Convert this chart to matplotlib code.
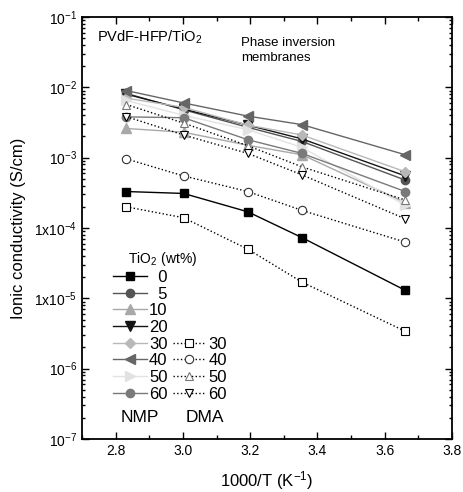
import matplotlib
matplotlib.use("Agg")
import matplotlib.pyplot as plt
from matplotlib.lines import Line2D
from matplotlib.ticker import FixedLocator, FixedFormatter, LogLocator, MultipleLocator, NullFormatter

plt.rcParams['font.family'] = ['Liberation Sans', 'DejaVu Sans']
plt.rcParams['mathtext.fontset'] = 'custom'
plt.rcParams['mathtext.rm'] = 'Liberation Sans'
plt.rcParams['mathtext.it'] = 'Liberation Sans'
plt.rcParams['mathtext.default'] = 'regular'

# data
inv_T = [2.832, 3.002, 3.193, 3.354, 3.661]

nmp_labels = ["0", "5", "10", "20", "30", "40", "50", "60"]
nmp_0 = [3.3e-4, 3.1e-4, 1.7e-4, 7.3e-5, 1.3e-5]
nmp_5 = [8.2e-3, 4.8e-3, 2.7e-3, 1.7e-3, 4.8e-4]
nmp_10 = [2.6e-3, 2.3e-3, 1.5e-3, 1.1e-3, 2.3e-4]
nmp_20 = [8.0e-3, 4.9e-3, 2.9e-3, 1.85e-3, 5.5e-4]
nmp_30 = [7.0e-3, 5.2e-3, 2.9e-3, 2.1e-3, 6.3e-4]
nmp_40 = [9.0e-3, 6.0e-3, 3.9e-3, 2.95e-3, 1.1e-3]
nmp_50 = [6.5e-3, 4.0e-3, 2.5e-3, 1.4e-3, 2.1e-4]
nmp_60 = [3.8e-3, 3.7e-3, 1.8e-3, 1.15e-3, 3.3e-4]

dma_labels = ["30", "40", "50", "60"]
dma_30 = [2.0e-4, 1.4e-4, 5.0e-5, 1.7e-5, 3.4e-6]
dma_40 = [9.6e-4, 5.5e-4, 3.3e-4, 1.78e-4, 6.3e-5]
dma_50 = [5.7e-3, 3.1e-3, 1.48e-3, 7.4e-4, 2.5e-4]
dma_60 = [3.83e-3, 2.1e-3, 1.15e-3, 5.7e-4, 1.35e-4]

yticks = [1e-7, 1e-6, 1e-5, 1e-4, 1e-3, 1e-2, 1e-1]
ytick_labels = ["10$^{-7}$", "10$^{-6}$", "1x10$^{-5}$", "1x10$^{-4}$", "10$^{-3}$", "10$^{-2}$", "10$^{-1}$"]
xticks = [2.8, 3.0, 3.2, 3.4, 3.6, 3.8]

nmp_series = [nmp_0, nmp_5, nmp_10, nmp_20, nmp_30, nmp_40, nmp_50, nmp_60]
nmp_markers = ['s', 'o', '^', 'v', 'D', '<', '>', 'o']
nmp_colors = ['#000000', '#555555', '#a8a8a8', '#151515', '#b8b8b8', '#666666', '#e2e2e2', '#7a7a7a']
nmp_msize = [5.5, 6, 6.5, 6.5, 5.5, 7, 7, 6]

dma_series = [dma_30, dma_40, dma_50, dma_60]
dma_markers = ['s', 'o', '^', 'v']
dma_mec = ['#000000', '#333333', '#777777', '#000000']

fig = plt.figure(figsize=(4.64, 4.92), dpi=100)
ax = fig.add_axes([82/464, 1-439/492, 370/464, 422/492])

nmp_handles = []
for vals, m, c, ms, lab in zip(nmp_series, nmp_markers, nmp_colors, nmp_msize, nmp_labels):
    h, = ax.plot(inv_T, vals, marker=m, color=c, mfc=c, mec=c, ms=ms, lw=1.0, label=lab)
    nmp_handles.append(h)

dma_handles = []
for vals, m, mc, lab in zip(dma_series, dma_markers, dma_mec, dma_labels):
    h, = ax.plot(inv_T, vals, marker=m, color='#000000', ls=':', lw=1.0,
                 mfc='white', mec=mc, ms=6, mew=0.8, label=lab)
    dma_handles.append(h)

ax.set_yscale('log')
ax.set_xlim(2.7, 3.8)
ax.set_ylim(1e-7, 1e-1)
ax.yaxis.set_major_locator(FixedLocator(yticks))
ax.yaxis.set_major_formatter(FixedFormatter(ytick_labels))
ax.yaxis.set_minor_locator(LogLocator(base=10, subs=range(2, 10), numticks=20))
ax.yaxis.set_minor_formatter(NullFormatter())
ax.xaxis.set_major_locator(FixedLocator(xticks))
ax.set_xticklabels([f"{v:.1f}" for v in xticks])
ax.xaxis.set_minor_locator(MultipleLocator(0.1))

ax.tick_params(which='both', direction='in', top=True, right=True, labelsize=10, width=1.0)
ax.tick_params(which='major', length=5)
ax.tick_params(which='minor', length=3)
ax.tick_params(axis='y', which='minor', length=2.5)
for s in ax.spines.values():
    s.set_linewidth(1.3)

ax.set_xlabel("1000/T (K$^{-1}$)", fontsize=12, labelpad=8)
ax.set_ylabel("Ionic conductivity (S/cm)", fontsize=12, labelpad=6)

ax.text(0.04, 0.953, "PVdF-HFP/TiO$_2$", transform=ax.transAxes, fontsize=10.5, va='center', ha='left')
ax.text(0.43, 0.953, "Phase inversion\nmembranes", transform=ax.transAxes, fontsize=9.5,
        va='top', ha='left', linespacing=1.3)

blank = Line2D([], [], ls='none', marker='none')
handles = nmp_handles + [blank] * 4 + dma_handles
labels = ["  0", "  5"] + nmp_labels[2:] + [""] * 4 + dma_labels
leg = ax.legend(handles, labels, ncol=2, frameon=False, fontsize=12,
                title="    TiO$_2$ (wt%)", title_fontsize=10,
                loc='upper left', bbox_to_anchor=(0.053, 0.475),
                handlelength=2.0, handletextpad=0.15, labelspacing=0.1,
                columnspacing=0.3, borderpad=0.2, alignment='left')

ax.text(0.105, 0.05, "NMP", transform=ax.transAxes, fontsize=12.5, va='center', ha='left')
ax.text(0.28, 0.05, "DMA", transform=ax.transAxes, fontsize=12.5, va='center', ha='left')

fig.savefig("out.png", dpi=100)
